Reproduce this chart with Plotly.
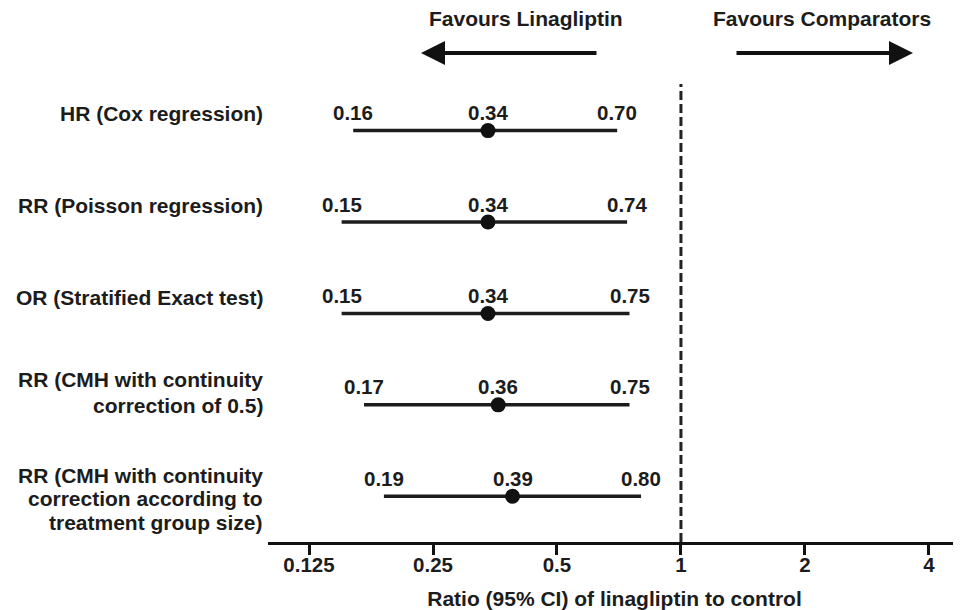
import numpy as np
import plotly.graph_objects as go

# ---- data ----
row_labels = [
    ["HR (Cox regression)"],
    ["RR (Poisson regression)"],
    ["OR (Stratified Exact test)"],
    ["RR (CMH with continuity", "correction of 0.5)"],
    ["RR (CMH with continuity", "correction according to", "treatment group size)"],
]
estimates = [0.34, 0.34, 0.34, 0.36, 0.39]
lower = [0.16, 0.15, 0.15, 0.17, 0.19]
upper = [0.70, 0.74, 0.75, 0.75, 0.80]
tick_vals = [0.125, 0.25, 0.5, 1, 2, 4]
tick_text = ["0.125", "0.25", "0.5", "1", "2", "4"]
x_title = "Ratio (95% CI) of linagliptin to control"
left_label = "Favours Linagliptin"
right_label = "Favours Comparators"

rows = list(range(1, len(estimates) + 1))
FONT = "Liberation Sans, Arial, sans-serif"
INK = "#1c1c1c"
FS = 21

fig = go.Figure()

# CI lines
for r, lo, hi in zip(rows, lower, upper):
    fig.add_trace(go.Scatter(x=[lo, hi], y=[r, r], mode="lines",
                             line=dict(color=INK, width=3.5),
                             hoverinfo="skip", showlegend=False))
# point estimates
fig.add_trace(go.Scatter(x=estimates, y=rows, mode="markers",
                         marker=dict(color="#111111", size=15),
                         showlegend=False))

ann = []
# value labels
for r, lo, est, hi in zip(rows, lower, estimates, upper):
    for v in (lo, est, hi):
        ann.append(dict(x=np.log10(v), y=r, xref="x", yref="y",
                        text=f"<b>{v:.2f}</b>", showarrow=False,
                        yshift=18, xanchor="center", yanchor="middle",
                        font=dict(family=FONT, size=FS - 0.5, color=INK)))

# row labels (one annotation per line, right aligned)
line_shifts = [[17], [17], [16], [25, -1], [21, -2, -26]]
for r, lines, shifts in zip(rows, row_labels, line_shifts):
    for txt, sh in zip(lines, shifts):
        ann.append(dict(x=-0.004, y=r, xref="paper", yref="y",
                        text=f"<b>{txt}</b>", showarrow=False,
                        yshift=sh, xanchor="right", yanchor="middle",
                        font=dict(family=FONT, size=FS, color=INK)))

# direction labels and arrows
ann.append(dict(x=0.372, y=1.142, xref="paper", yref="paper",
                text=f"<b>{left_label}</b>", showarrow=False,
                xanchor="center", yanchor="middle",
                font=dict(family=FONT, size=FS, color=INK)))
ann.append(dict(x=0.7994, y=1.142, xref="paper", yref="paper",
                text=f"<b>{right_label}</b>", showarrow=False,
                xanchor="center", yanchor="middle",
                font=dict(family=FONT, size=FS, color=INK)))
ann.append(dict(x=0.2208, y=1.0677, xref="x domain", yref="y domain",
                ax=0.4762, ay=1.0677, axref="x domain", ayref="y domain",
                text="", showarrow=True, arrowhead=2, arrowsize=1.2,
                arrowwidth=4, arrowcolor="#111111"))
ann.append(dict(x=0.9307, y=1.0677, xref="x domain", yref="y domain",
                ax=0.6739, ay=1.0677, axref="x domain", ayref="y domain",
                text="", showarrow=True, arrowhead=2, arrowsize=1.2,
                arrowwidth=4, arrowcolor="#111111"))

# page body has an 8px margin, so the figure is 8px smaller than the window
fig.update_layout(
    width=953, height=602,
    margin=dict(l=260, r=0, t=76, b=68),
    paper_bgcolor="white", plot_bgcolor="white",
    font=dict(family=FONT, size=FS, color=INK),
    annotations=ann,
    shapes=[dict(type="line", xref="x", yref="paper", x0=1, x1=1, y0=0, y1=1,
                 line=dict(color="#222222", width=3, dash="9px,4px"))],
    showlegend=False,
)
fig.update_xaxes(type="log", range=[-1.0027, 0.680],
                 tickvals=tick_vals, ticktext=[f"<b>{t}</b>" for t in tick_text],
                 showline=True, linecolor="#111111", linewidth=3,
                 ticks="outside", ticklen=10, tickwidth=3, tickcolor="#111111",
                 ticklabelstandoff=-8,
                 showgrid=False, zeroline=False,
                 tickfont=dict(family=FONT, size=FS - 0.5, color=INK),
                 title=dict(text=f"<b>{x_title}</b>", standoff=19,
                            font=dict(family=FONT, size=FS, color=INK)))
fig.update_yaxes(range=[5.5, 0.49], visible=False, showgrid=False, zeroline=False)

fig.write_html("out.html")
